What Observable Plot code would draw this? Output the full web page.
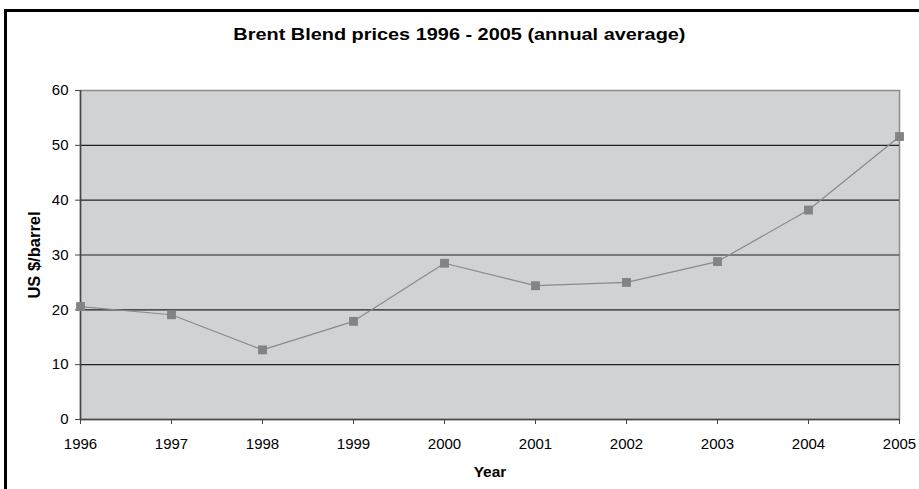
<!DOCTYPE html>
<html>
<head>
<meta charset="utf-8">
<script src="https://cdn.jsdelivr.net/npm/d3@7"></script>
<script src="https://cdn.jsdelivr.net/npm/@observablehq/plot@0.6"></script>
<style>
  html, body { margin: 0; padding: 0; background: #fff; }
  #wrap { position: relative; width: 919px; height: 489px; overflow: hidden; font-family: "Liberation Sans", Arial, sans-serif; }
  #frameline { position: absolute; left: 4px; top: 9px; width: 940px; height: 500px; border-left: 3px solid #000; border-top: 3px solid #000; box-sizing: border-box; }
  #title { position: absolute; left: 0; width: 919px; top: 25px; line-height: 20px; text-align: center; font-weight: bold; font-size: 17px; color: #000; transform: scaleX(1.17); transform-origin: 460px 0; }
  svg { position: absolute; left: 0; top: 0; }
</style>
</head>
<body>
<div id="wrap">
  <div id="frameline"></div>
  <div id="title">Brent Blend prices 1996 - 2005 (annual average)</div>
</div>
<script>
const years = [1996, 1997, 1998, 1999, 2000, 2001, 2002, 2003, 2004, 2005];
const prices = [20.6, 19.1, 12.7, 17.9, 28.5, 24.4, 25.0, 28.8, 38.2, 51.6];
const yTicks = [0, 10, 20, 30, 40, 50, 60];
const gridValues = [10, 20, 30, 40, 50];

const data = years.map((y, i) => ({year: y, price: prices[i]}));

const chart = Plot.plot({
  width: 919,
  height: 489,
  marginLeft: 80,
  marginRight: 20,
  marginTop: 90,
  marginBottom: 70,
  style: {fontFamily: "'Liberation Sans', Arial, sans-serif", fontSize: "15px", color: "#000", background: "transparent"},
  x: {domain: [1996, 2005], ticks: years, tickFormat: "d"},
  y: {domain: [0, 60], ticks: yTicks},
  marks: [
    Plot.frame({fill: "#d1d2d4", stroke: "#8c8c8c", strokeWidth: 1.5}),
    Plot.ruleY(gridValues, {stroke: "#222", strokeWidth: 1.2}),
    Plot.ruleX([1996], {stroke: "#444", strokeWidth: 1.5}),
    Plot.ruleY([0], {stroke: "#444", strokeWidth: 1.5}),
    Plot.axisX({ticks: years, tickFormat: "d", tickSize: 5, tickPadding: 14, fontSize: 15, label: null, stroke: "#444"}),
    Plot.axisY({ticks: yTicks, tickSize: 5, tickPadding: 7, fontSize: 15, label: null, stroke: "#444"}),
    Plot.line(data, {x: "year", y: "price", stroke: "#8a8a8a", strokeWidth: 1.2}),
    Plot.dot(data, {x: "year", y: "price", symbol: "square", r: 5, fill: "#838383", stroke: "none"}),
    Plot.text(["US $/barrel"], {frameAnchor: "left", dx: -46, rotate: -90, textAnchor: "middle", lineAnchor: "middle", fontWeight: "bold", fontSize: 16.5, fill: "#000"}),
    Plot.text(["Year"], {frameAnchor: "bottom", dy: 53, textAnchor: "middle", lineAnchor: "middle", fontWeight: "bold", fontSize: 15.5, fill: "#000"})
  ]
});
document.getElementById("wrap").appendChild(chart);
</script>
</body>
</html>
